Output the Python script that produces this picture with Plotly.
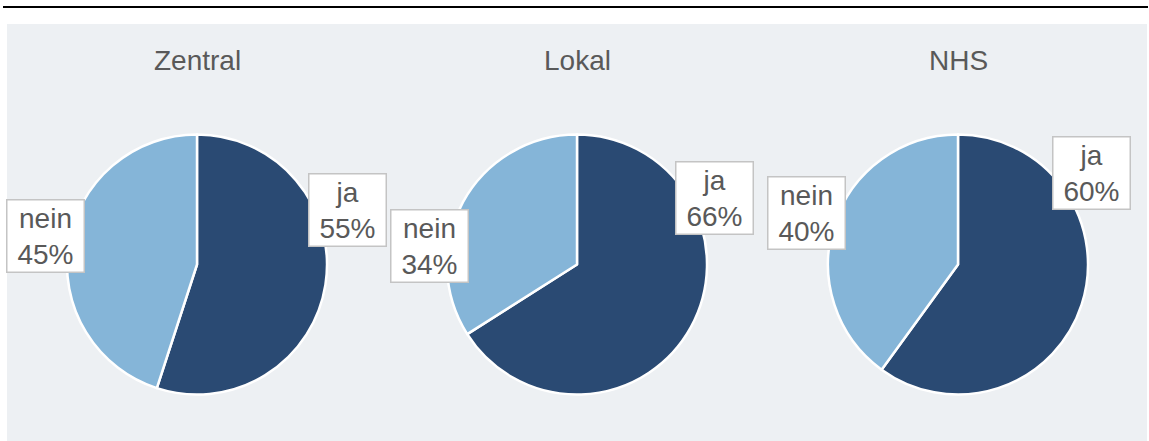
import plotly.graph_objects as go

# ---- data ----
groups = ["Zentral", "Lokal", "NHS"]
answers = ["ja", "nein"]
ja_pct = [55, 66, 60]
nein_pct = [45, 34, 40]

# ---- style / layout config (pixels) ----
W, H = 1149, 441
colors = ["#2a4a73", "#85b5d8"]
text_color = "#595959"
font_family = "Liberation Sans, Arial, sans-serif"
pie_centers_x = [197, 577, 958]
pie_center_y = 264.5
pie_r = 130
title_y = 61
# label box centre offsets relative to pie centre (ja, nein)
label_offsets = [
    [(150, -55), (-152, -28)],
    [(137, -67), (-148, -19)],
    [(133, -92), (-152, -52)],
]


def px_x(x):
    return x / W


def px_y(y):
    return 1 - y / H


fig = go.Figure()

for i, g in enumerate(groups):
    vals = [ja_pct[i], nein_pct[i]]
    cx = pie_centers_x[i]
    fig.add_trace(go.Pie(
        labels=answers,
        values=vals,
        sort=False,
        direction="clockwise",
        rotation=0,
        textinfo="none",
        hoverinfo="label+percent",
        marker=dict(colors=colors, line=dict(color="white", width=2.5)),
        domain=dict(x=[px_x(cx - pie_r), px_x(cx + pie_r)],
                    y=[px_y(pie_center_y + pie_r), px_y(pie_center_y - pie_r)]),
        showlegend=False,
        name=g,
    ))
    # title
    fig.add_annotation(
        x=px_x(cx), y=px_y(title_y), xref="paper", yref="paper",
        text=g, showarrow=False, xanchor="center", yanchor="middle",
        font=dict(size=28, color=text_color, family=font_family),
    )
    # data labels
    for j, a in enumerate(answers):
        dx, dy = label_offsets[i][j]
        fig.add_annotation(
            x=px_x(cx + dx), y=px_y(pie_center_y + dy), xref="paper", yref="paper",
            text=f"{a}<br>{vals[j]}%", showarrow=False,
            xanchor="center", yanchor="middle",
            font=dict(size=28, color=text_color, family=font_family),
            bgcolor="white", bordercolor="#c4c4c4", borderwidth=1.5, borderpad=2,
            width=72,
        )

# background panel and top rule
fig.add_shape(type="rect", xref="paper", yref="paper",
              x0=px_x(7), x1=px_x(1147), y0=px_y(441), y1=px_y(24),
              fillcolor="#edf0f3", line=dict(width=0), layer="below")
fig.add_shape(type="line", xref="paper", yref="paper",
              x0=px_x(3), x1=px_x(1148), y0=px_y(7), y1=px_y(7),
              line=dict(color="black", width=2))

fig.update_layout(
    width=W, height=H,
    margin=dict(l=0, r=0, t=0, b=0),
    paper_bgcolor="white", plot_bgcolor="white",
)

fig.write_html(
    "out.html",
    config={"displayModeBar": False},
    post_script="document.body.style.margin='0';document.body.style.overflow='hidden';",
)
